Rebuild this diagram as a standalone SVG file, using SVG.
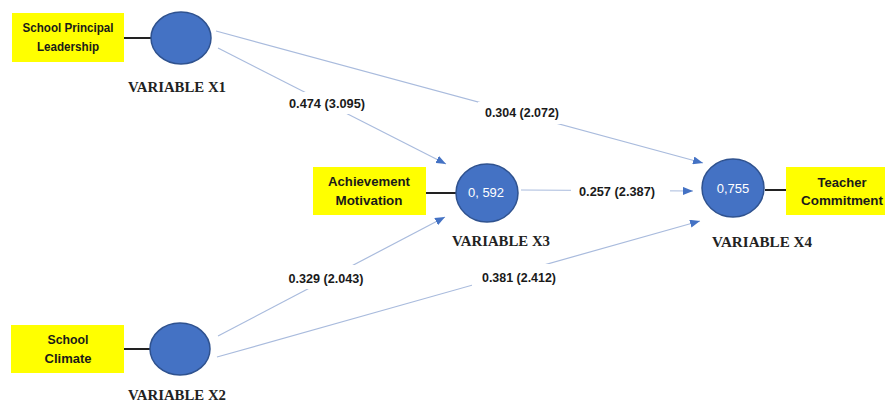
<svg xmlns="http://www.w3.org/2000/svg" width="885" height="403" viewBox="0 0 885 403">
<defs>
<marker id="arr" markerUnits="userSpaceOnUse" markerWidth="10" markerHeight="8" refX="10" refY="4" orient="auto">
<path d="M0,0 L10,4 L0,8 z" fill="#4472c4"/>
</marker>
<style>
.edge{stroke:#a9bbdd;stroke-width:1.2;fill:none;marker-end:url(#arr)}
.tie{stroke:#222;stroke-width:2}
.box{fill:#ffff00}
.bt{font-family:"Liberation Sans",Arial,sans-serif;font-weight:bold;font-size:12.5px;fill:#1a1a1a;text-anchor:middle}
.var{fill:#4472c4;stroke:#2f528f;stroke-width:1.5}
.vl{font-family:"Liberation Serif","Times New Roman",serif;font-weight:bold;font-size:14.5px;fill:#222;text-anchor:middle}
.val{font-family:"Liberation Sans",Arial,sans-serif;font-size:13px;fill:#fff;text-anchor:middle}
.el{font-family:"Liberation Sans",Arial,sans-serif;font-weight:bold;font-size:12px;fill:#1a1a1a;text-anchor:middle}
.bg{fill:#fff}
</style>
</defs>
<rect width="885" height="403" fill="#fff"/>
<g id="connectors">
<line class="edge" x1="216" y1="31" x2="703" y2="163"/>
<line class="edge" x1="218" y1="48" x2="446" y2="164"/>
<line class="edge" x1="218" y1="336" x2="445" y2="217"/>
<line class="edge" x1="217" y1="357" x2="700" y2="221"/>
<line class="edge" x1="521" y1="190" x2="693" y2="191"/>
<rect class="bg" x="285" y="92" width="84" height="22"/>
<text class="el" x="327" y="108" textLength="76" lengthAdjust="spacingAndGlyphs">0.474 (3.095)</text>
<rect class="bg" x="478" y="102" width="86" height="22"/>
<text class="el" x="522" y="117" textLength="74" lengthAdjust="spacingAndGlyphs">0.304 (2.072)</text>
<rect class="bg" x="571" y="180" width="99" height="20"/>
<text class="el" x="617" y="196" textLength="76" lengthAdjust="spacingAndGlyphs">0.257 (2.387)</text>
<rect class="bg" x="284" y="265" width="84" height="24"/>
<text class="el" x="326" y="283" textLength="75" lengthAdjust="spacingAndGlyphs">0.329 (2.043)</text>
<rect class="bg" x="472" y="264" width="90" height="24"/>
<text class="el" x="519" y="282" textLength="74" lengthAdjust="spacingAndGlyphs">0.381 (2.412)</text>
</g>
<g id="x1">
<rect class="box" x="12" y="13" width="112" height="49"/>
<text class="bt" x="68" y="32" textLength="91" lengthAdjust="spacingAndGlyphs">School Principal</text>
<text class="bt" x="68" y="51" textLength="62" lengthAdjust="spacingAndGlyphs">Leadership</text>
<line class="tie" x1="124" y1="38" x2="151" y2="38"/>
<ellipse class="var" cx="181" cy="38" rx="30" ry="26"/>
<text class="vl" x="177" y="92" textLength="98" lengthAdjust="spacingAndGlyphs">VARIABLE X1</text>
</g>
<g id="x2">
<rect class="box" x="11" y="325" width="113" height="48"/>
<text class="bt" x="68" y="344" textLength="41" lengthAdjust="spacingAndGlyphs">School</text>
<text class="bt" x="68" y="363" textLength="47" lengthAdjust="spacingAndGlyphs">Climate</text>
<line class="tie" x1="124" y1="349" x2="150" y2="349"/>
<ellipse class="var" cx="180" cy="349" rx="30" ry="26"/>
<text class="vl" x="177" y="400" textLength="98" lengthAdjust="spacingAndGlyphs">VARIABLE X2</text>
</g>
<g id="x3">
<rect class="box" x="313" y="167" width="113" height="48"/>
<text class="bt" x="369" y="186" textLength="82" lengthAdjust="spacingAndGlyphs">Achievement</text>
<text class="bt" x="369" y="205" textLength="67" lengthAdjust="spacingAndGlyphs">Motivation</text>
<line class="tie" x1="426" y1="193" x2="456" y2="193"/>
<ellipse class="var" cx="487" cy="193" rx="31" ry="29"/>
<text class="val" x="486" y="197">0, 592</text>
<text class="vl" x="501" y="246" textLength="98" lengthAdjust="spacingAndGlyphs">VARIABLE X3</text>
</g>
<g id="x4">
<ellipse class="var" cx="733" cy="188" rx="31" ry="29"/>
<text class="val" x="733" y="193">0,755</text>
<line class="tie" x1="765" y1="190" x2="786" y2="190"/>
<rect class="box" x="786" y="167" width="105" height="48"/>
<text class="bt" x="842" y="187" textLength="49" lengthAdjust="spacingAndGlyphs">Teacher</text>
<text class="bt" x="842" y="205" textLength="82" lengthAdjust="spacingAndGlyphs">Commitment</text>
<text class="vl" x="762" y="247" textLength="100" lengthAdjust="spacingAndGlyphs">VARIABLE X4</text>
</g>
</svg>
